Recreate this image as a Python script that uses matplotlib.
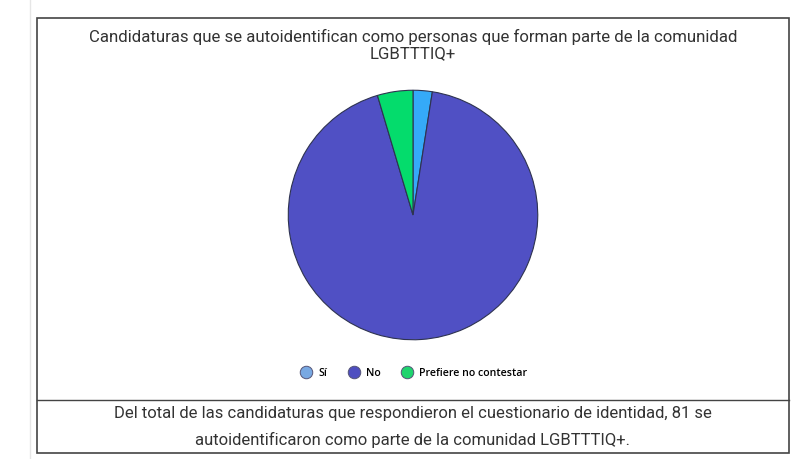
import matplotlib
matplotlib.use('Agg')
from matplotlib import pyplot as plt
from matplotlib.patches import Rectangle
from matplotlib.lines import Line2D

W, H = 809, 460

categories = ['Sí', 'No', 'Prefiere no contestar']
values = [81, 3030, 150]
pie_colors = ['#35aaf8', '#5050c4', '#04dc6c']
legend_colors = ['#78a8e2', '#4e4ec0', '#1fd46e']

title_lines = ['Candidaturas que se autoidentifican como personas que forman parte de la comunidad',
               'LGBTTTIQ+']
footer_lines = ['Del total de las candidaturas que respondieron el cuestionario de identidad, 81 se',
                'autoidentificaron como parte de la comunidad LGBTTTIQ+.']


def fx(px):
    return px / W


def fy(py):
    return 1 - py / H


fig = plt.figure(figsize=(W / 100, H / 100), dpi=100)
fig.patch.set_facecolor('white')

# page border and boxes
fig.add_artist(Rectangle((fx(30), fy(460)), 0, 1, transform=fig.transFigure,
                         edgecolor='#e6e6e6', linewidth=1, fill=False))
fig.add_artist(Rectangle((fx(37), fy(454)), fx(789) - fx(37), fy(19) - fy(454),
                         transform=fig.transFigure, edgecolor='#444444',
                         linewidth=1.2, fill=False))
fig.add_artist(Line2D([fx(37), fx(789)], [fy(401), fy(401)], transform=fig.transFigure,
                      color='#444444', linewidth=1.0))

# pie
ax = fig.add_axes([fx(287), fy(342), fx(252), 252 / H])
ax.pie(values, colors=pie_colors, startangle=90, counterclock=False,
       wedgeprops=dict(edgecolor='#2e3350', linewidth=0.8))
ax.set_xlim(-1.01, 1.01)
ax.set_ylim(-1.01, 1.01)
ax.set_aspect('equal')
ax.axis('off')

# title
cx = fx(413)
fig.text(cx, fy(42), title_lines[0], ha='center', va='baseline', fontsize=12.1,
         family='Roboto', color='#333333')
fig.text(cx, fy(58), title_lines[1], ha='center', va='baseline', fontsize=12.1,
         family='Roboto', color='#333333')

# footer
fig.text(cx, fy(418), footer_lines[0], ha='center', va='baseline', fontsize=12.0,
         family='Roboto', color='#333333')
fig.text(cx, fy(445), footer_lines[1], ha='center', va='baseline', fontsize=12.0,
         family='Roboto', color='#333333')

# legend
handles = [Line2D([], [], marker='o', linestyle='', markersize=9,
                  markerfacecolor=c, markeredgecolor='#555577', markeredgewidth=0.7)
           for c in legend_colors]
fig.legend(handles, categories, loc='center', bbox_to_anchor=(fx(414), fy(374)),
           ncol=3, frameon=False, handletextpad=0.6, columnspacing=2.0,
           handlelength=1.0, prop=dict(family='Open Sans', weight='semibold', size=7.7))

fig.savefig('out.png', dpi=100)
